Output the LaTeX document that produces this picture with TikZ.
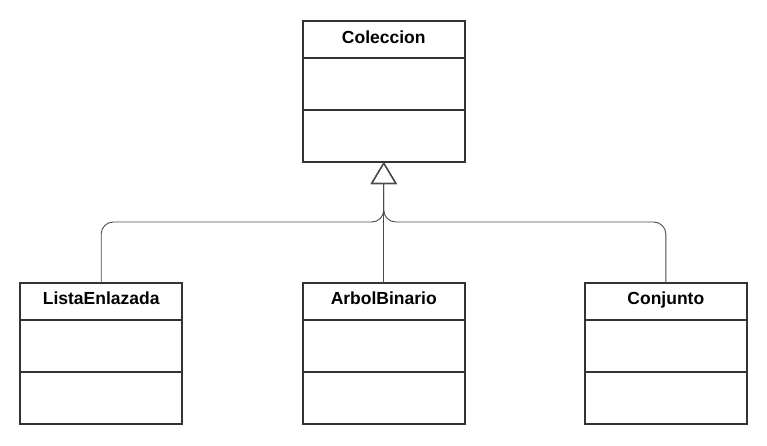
\documentclass[tikz,border=0pt]{standalone}
\usepackage{fontspec}
\setmainfont{Liberation Sans}
\usetikzlibrary{arrows.meta}
\definecolor{cline}{rgb}{0.2, 0.2, 0.2}

\begin{document}
\begin{tikzpicture}[x=1pt, y=-1pt,
    classbox/.style={draw=cline, line width=2pt, minimum width=162pt, minimum height=141pt, inner sep=0pt, outer sep=0pt},
    classname/.style={anchor=base, font=\bfseries\fontsize{17.5}{20}\selectfont},
    inherit/.style={draw=black!70, line width=0.9pt, rounded corners=12pt,
        -{Triangle[open, length=22pt, width=26pt, line width=1.2pt]}}]

\draw[draw=none, use as bounding box] (0, 0) rectangle (767, 445);

% superclass
\node [classbox] (coleccion) at (383.75, 91.5) {};
\node [classname] (coleccion-name) at ([yshift=-22.3pt]coleccion.north) {Coleccion};

% subclasses
\foreach \n/\x/\t in {lista/101.2/ListaEnlazada, arbol/383.75/ArbolBinario, conjunto/665.8/Conjunto} {
    \node [classbox] (\n) at (\x, 353) {};
    \node [classname] (\n-name) at ([yshift=-22.3pt]\n.north) {\t};
}

% compartments
\foreach \n in {coleccion, lista, arbol, conjunto} {
    \draw [cline, line width=2pt] ([yshift=-37pt]\n.north west) -- ([yshift=-37pt]\n.north east);
    \draw [cline, line width=2pt] ([yshift=-89pt]\n.north west) -- ([yshift=-89pt]\n.north east);
}

% generalisation
\coordinate (joint) at (coleccion.south |- 0, 222);
\draw [inherit] (arbol.north) -- (coleccion.south);
\foreach \n in {lista, conjunto}
    \draw [inherit] (\n.north) |- (joint) -- (coleccion.south);
\end{tikzpicture}
\end{document}
